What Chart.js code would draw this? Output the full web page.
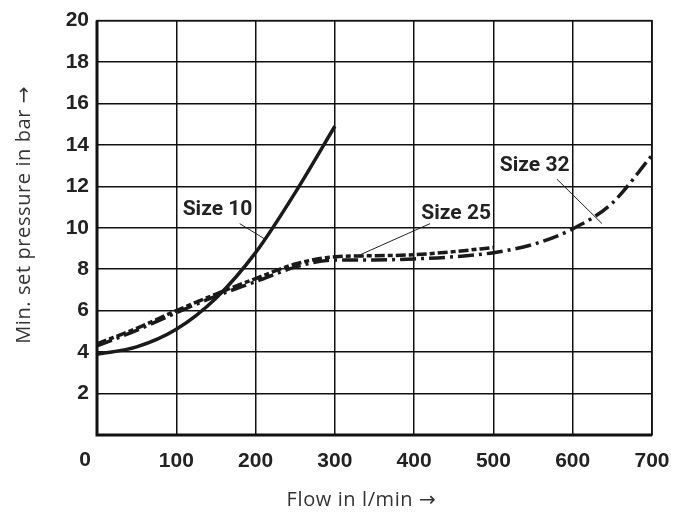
<!DOCTYPE html>
<html>
<head>
<meta charset="utf-8">
<script src="https://cdn.jsdelivr.net/npm/chart.js@4.4.1/dist/chart.umd.min.js"></script>
<style>
  html, body { margin: 0; padding: 0; background: #fff; }
  #wrap { width: 689px; height: 515px; }
</style>
</head>
<body>
<div id="wrap"><canvas id="pressureChart" width="689" height="515"></canvas></div>
<script>
// values
const flow10 = [0, 50, 100, 150, 200, 250, 300];
const size10 = [3.9, 4.25, 5.1, 6.6, 8.8, 11.7, 14.9];

const flow25 = [0, 50, 100, 150, 200, 250, 300, 350, 400, 450, 500];
const size25 = [4.4, 5.15, 6.0, 6.8, 7.55, 8.25, 8.6, 8.65, 8.7, 8.85, 9.05];

const flow32 = [0, 50, 100, 150, 200, 250, 300, 350, 400, 450, 500, 550, 600, 650, 700];
const size32 = [4.3, 5.05, 5.9, 6.7, 7.4, 8.1, 8.45, 8.45, 8.5, 8.6, 8.8, 9.2, 9.95, 11.2, 13.5];

const xTicks = [0, 100, 200, 300, 400, 500, 600, 700];
const yTicks = [2, 4, 6, 8, 10, 12, 14, 16, 18, 20];

const xTitle = "Flow in l/min \u2192";
const yTitle = "Min. set pressure in bar \u2192";

// label text position and leader line end points, in data units
const labels = [
  { text: "Size 10", x: 152, y: 10.85, from: [180, 10.2], to: [212, 9.45] },
  { text: "Size 25", x: 453, y: 10.7, from: [420, 10.2], to: [328, 8.63] },
  { text: "Size 32", x: 552, y: 13.0, from: [580, 12.35], to: [637, 10.2] },
];

const toPoints = (xs, ys) => xs.map((x, i) => ({ x: x, y: ys[i] }));

const tickFont = { family: "'Liberation Sans', Arial", size: 21, weight: "bold" };

const labelPlugin = {
  id: "sizeLabels",
  afterDatasetsDraw(chart) {
    const ctx = chart.ctx;
    const xs = chart.scales.x, ys = chart.scales.y;
    ctx.save();
    labels.forEach((l) => {
      ctx.strokeStyle = "#222";
      ctx.lineWidth = 1;
      ctx.beginPath();
      ctx.moveTo(xs.getPixelForValue(l.from[0]), ys.getPixelForValue(l.from[1]));
      ctx.lineTo(xs.getPixelForValue(l.to[0]), ys.getPixelForValue(l.to[1]));
      ctx.stroke();
      ctx.fillStyle = "#222";
      ctx.font = "bold 21px Roboto, 'Liberation Sans', Arial";
      ctx.textAlign = "center";
      ctx.textBaseline = "middle";
      ctx.fillText(l.text, xs.getPixelForValue(l.x), ys.getPixelForValue(l.y));
    });
    ctx.restore();
  },
};

// thick left/bottom axes, thin top/right border, axis titles and the shared "0"
const framePlugin = {
  id: "frame",
  afterDraw(chart) {
    const a = chart.chartArea;
    const ctx = chart.ctx;
    ctx.save();
    ctx.strokeStyle = "#111";
    ctx.lineWidth = 1.5;
    ctx.strokeRect(a.left, a.top, a.right - a.left, a.bottom - a.top);
    ctx.lineWidth = 3;
    ctx.beginPath();
    ctx.moveTo(a.left, a.top);
    ctx.lineTo(a.left, a.bottom);
    ctx.lineTo(a.right, a.bottom);
    ctx.stroke();

    ctx.fillStyle = "#222";
    ctx.font = "bold 21px 'Liberation Sans', Arial";
    ctx.textAlign = "center";
    ctx.textBaseline = "middle";
    ctx.fillText("0", a.left - 12, a.bottom + 25);

    ctx.fillStyle = "#333";
    ctx.font = "20px 'Open Sans', 'DejaVu Sans'";
    ctx.letterSpacing = "0.6px";
    ctx.fillText(xTitle, (a.left + a.right) / 2 - 13, a.bottom + 65);
    ctx.translate(24, (a.top + a.bottom) / 2 - 13);
    ctx.rotate(-Math.PI / 2);
    ctx.fillText(yTitle, 0, 0);
    ctx.restore();
  },
};

new Chart(document.getElementById("pressureChart"), {
  type: "line",
  data: {
    datasets: [
      {
        label: "Size 10",
        data: toPoints(flow10, size10),
        borderColor: "#1a1a1a",
        borderWidth: 3.5,
        pointRadius: 0,
        cubicInterpolationMode: "monotone",
      },
      {
        label: "Size 25",
        data: toPoints(flow25, size25),
        borderColor: "#1a1a1a",
        borderWidth: 3.5,
        borderDash: [10, 3, 5, 3],
        pointRadius: 0,
        cubicInterpolationMode: "monotone",
      },
      {
        label: "Size 32",
        data: toPoints(flow32, size32),
        borderColor: "#1a1a1a",
        borderWidth: 3.5,
        borderDash: [16, 5, 3, 5],
        pointRadius: 0,
        cubicInterpolationMode: "monotone",
      },
    ],
  },
  options: {
    responsive: false,
    animation: false,
    layout: { padding: { top: 18, right: 37, left: 0, bottom: 0 } },
    plugins: { legend: { display: false }, tooltip: { enabled: false } },
    scales: {
      x: {
        type: "linear",
        min: 0,
        max: 700,
        afterBuildTicks: (s) => { s.ticks = xTicks.map((v) => ({ value: v })); },
        afterFit: (s) => { s.height = 80; },
        grid: { color: "#111", lineWidth: 1.5, drawTicks: false },
        border: { display: false },
        ticks: {
          color: "#222",
          font: tickFont,
          padding: 14,
          maxRotation: 0,
          callback: (v) => (v === 0 ? "" : v),
        },
      },
      y: {
        min: 0,
        max: 20,
        afterBuildTicks: (s) => { s.ticks = [0].concat(yTicks).map((v) => ({ value: v })); },
        afterFit: (s) => { s.width = 97; },
        grid: { color: "#111", lineWidth: 1.5, drawTicks: false },
        border: { display: false },
        ticks: {
          color: "#222",
          font: tickFont,
          padding: 8,
          callback: (v) => (v === 0 ? "" : v),
        },
      },
    },
  },
  plugins: [labelPlugin, framePlugin],
});
</script>
</body>
</html>
